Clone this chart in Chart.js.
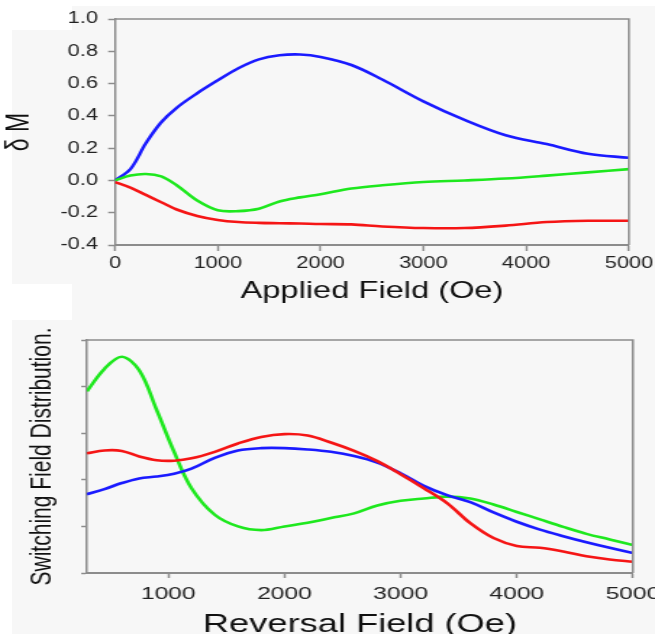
<!DOCTYPE html>
<html>
<head>
<meta charset="utf-8">
<script src="https://cdn.jsdelivr.net/npm/chart.js@4.4.0/dist/chart.umd.min.js"></script>
<style>
html, body { margin:0; padding:0; width:655px; height:634px; overflow:hidden; background:#f7f7f7; position:relative; }
canvas { position:absolute; left:0; transform-origin:0 0; }
#top { top:0; transform:scaleX(1.359); }
#bottom { top:300px; transform:scaleX(1.449); }
.w { position:absolute; background:#fff; }
</style>
</head>
<body>
<div class="w" style="left:0;top:0;width:12px;height:634px"></div>
<div class="w" style="left:0;top:0;width:72px;height:30px"></div>
<div class="w" style="left:0;top:0;width:655px;height:6px"></div>
<div class="w" style="left:0;top:284px;width:72px;height:36px"></div>
<canvas id="top" width="482" height="320"></canvas>
<canvas id="bottom" width="452" height="360"></canvas>
<script>
// top panel: delta M vs applied field
var appliedField = [0,150,300,450,600,800,1000,1200,1400,1600,1800,2000,2300,2600,3000,3400,3800,4200,4600,5000];
var dmBlue  = [0,0.07,0.23,0.36,0.45,0.54,0.62,0.695,0.75,0.775,0.78,0.765,0.715,0.625,0.49,0.375,0.28,0.225,0.165,0.14];
var dmGreen = [0,0.03,0.04,0.025,-0.03,-0.125,-0.185,-0.19,-0.175,-0.13,-0.105,-0.085,-0.05,-0.03,-0.01,0,0.012,0.03,0.05,0.07];
var dmRed   = [-0.01,-0.045,-0.09,-0.135,-0.18,-0.22,-0.245,-0.258,-0.263,-0.265,-0.267,-0.27,-0.272,-0.285,-0.295,-0.295,-0.28,-0.258,-0.25,-0.25];
var appliedTicks = [0,1000,2000,3000,4000,5000];
var dmTicks = [-0.4,-0.2,0,0.2,0.4,0.6,0.8,1.0];

// bottom panel: switching field distribution vs reversal field
var reversalField = [300,450,600,750,900,1050,1200,1400,1600,1800,2000,2200,2400,2600,2800,3000,3200,3400,3600,3800,4000,4200,4400,4600,4800,5000];
var sfdGreen = [3.9,4.38,4.64,4.35,3.5,2.6,1.82,1.25,1.0,0.92,1.0,1.08,1.18,1.28,1.45,1.55,1.6,1.64,1.6,1.47,1.31,1.15,0.99,0.84,0.72,0.6];
var sfdRed   = [2.57,2.63,2.62,2.5,2.42,2.41,2.46,2.6,2.78,2.92,2.98,2.95,2.8,2.62,2.4,2.12,1.82,1.5,1.07,0.75,0.58,0.54,0.46,0.36,0.29,0.24];
var sfdBlue  = [1.69,1.8,1.93,2.03,2.07,2.13,2.24,2.47,2.63,2.68,2.68,2.65,2.6,2.51,2.37,2.14,1.87,1.67,1.52,1.3,1.1,0.93,0.79,0.66,0.54,0.43];
var reversalTicks = [1000,2000,3000,4000,5000];
var sfdTicks = [0,1,2,3,4,5];

var BLUE = '#1a1aff', GREEN = '#1ee81e', RED = '#f51515', AXIS = '#8c8c8c';

Chart.defaults.font.family = '"Liberation Sans", Arial, sans-serif';

function series(xs, ys, color) {
  return {
    data: xs.map(function(x, i){ return {x: x, y: ys[i]}; }),
    borderColor: color, borderWidth: 2.6, pointRadius: 0, tension: 0.35, fill: false
  };
}
function setTicks(vals) {
  return function(s){ s.ticks = vals.map(function(v){ return {value: v}; }); };
}
function fixWidth(w) {
  return function(s){ s.width = w; s.paddingTop = 0; s.paddingBottom = 0; };
}
function fixHeight(h) {
  return function(s){ s.height = h; s.paddingLeft = 0; s.paddingRight = 0; };
}
function plain(v){ return String(v); }

// top and right frame lines
var boxLines = {
  id: 'boxLines',
  afterDraw: function(chart){
    var a = chart.chartArea, ctx = chart.ctx;
    ctx.save();
    ctx.strokeStyle = AXIS;
    ctx.lineWidth = 1.5;
    ctx.beginPath();
    ctx.moveTo(a.left, a.top);
    ctx.lineTo(a.right, a.top);
    ctx.lineTo(a.right, a.bottom);
    ctx.stroke();
    ctx.restore();
  }
};

new Chart(document.getElementById('top'), {
  type: 'line',
  data: { datasets: [
    series(appliedField, dmRed, RED),
    series(appliedField, dmGreen, GREEN),
    series(appliedField, dmBlue, BLUE)
  ]},
  options: {
    responsive: false, animation: false, devicePixelRatio: 1,
    layout: { padding: { top: 19, right: 19.2, bottom: 0, left: 0 } },
    plugins: { legend: { display: false }, tooltip: { enabled: false } },
    scales: {
      x: {
        type: 'linear', min: 0, max: 5000,
        afterBuildTicks: setTicks(appliedTicks), afterFit: fixHeight(75),
        border: { color: AXIS, width: 2 },
        grid: { drawOnChartArea: false, tickLength: 6, tickColor: AXIS, tickWidth: 1.5 },
        ticks: { color: '#222', font: { size: 16 }, padding: 3, maxRotation: 0, autoSkip: false, callback: plain },
        title: { display: true, text: 'Applied Field (Oe)', color: '#111', font: { size: 24 }, padding: { top: 0, bottom: 14.6 } }
      },
      y: {
        min: -0.4, max: 1.0,
        afterBuildTicks: setTicks(dmTicks), afterFit: fixWidth(84.6),
        border: { color: AXIS, width: 1.5 },
        grid: { drawOnChartArea: false, tickLength: 5, tickColor: AXIS, tickWidth: 1.5 },
        ticks: { color: '#222', font: { size: 16 }, padding: 7.5, autoSkip: false,
                 callback: function(v){ return v.toFixed(1); } },
        title: { display: true, text: 'δ M', color: '#111', font: { size: 23 }, padding: { top: 1, bottom: 0 } }
      }
    }
  },
  plugins: [boxLines]
});

new Chart(document.getElementById('bottom'), {
  type: 'line',
  data: { datasets: [
    series(reversalField, sfdRed, RED),
    series(reversalField, sfdBlue, BLUE),
    series(reversalField, sfdGreen, GREEN)
  ]},
  options: {
    responsive: false, animation: false, devicePixelRatio: 1,
    layout: { padding: { top: 40, right: 15.2, bottom: 0, left: 0 } },
    plugins: { legend: { display: false }, tooltip: { enabled: false } },
    scales: {
      x: {
        type: 'linear', min: 300, max: 5000,
        afterBuildTicks: setTicks(reversalTicks), afterFit: fixHeight(87),
        border: { color: AXIS, width: 2 },
        grid: { drawOnChartArea: false, tickLength: 5, tickColor: AXIS, tickWidth: 1.5 },
        ticks: { color: '#222', font: { size: 17 }, padding: 5.8, maxRotation: 0, autoSkip: false, callback: plain },
        title: { display: true, text: 'Reversal Field (Oe)', color: '#111', font: { size: 25 }, padding: { top: 0, bottom: 20 } }
      },
      y: {
        min: 0, max: 5,
        afterBuildTicks: setTicks(sfdTicks), afterFit: fixWidth(60),
        border: { color: AXIS, width: 1.5 },
        grid: { drawOnChartArea: false, tickLength: 4, tickColor: AXIS, tickWidth: 1.5 },
        ticks: { display: false },
        title: { display: true, text: 'Switching Field Distribution.', color: '#111', font: { size: 21 }, padding: { top: 17, bottom: 0 } }
      }
    }
  },
  plugins: [boxLines]
});
</script>
</body>
</html>
